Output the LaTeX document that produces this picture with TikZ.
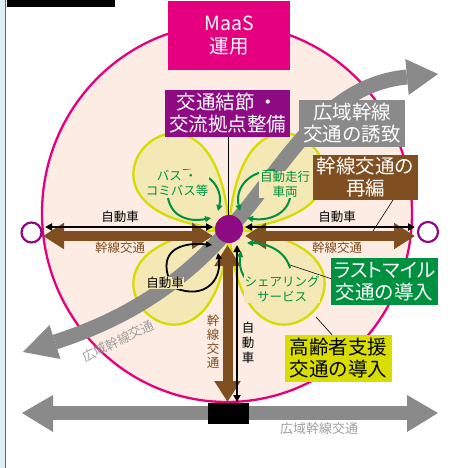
\documentclass[tikz,border=0pt]{standalone}
\usepackage{fontspec}
\setmainfont{Noto Sans CJK JP}
\usetikzlibrary{arrows.meta}
\definecolor{mag}{HTML}{E4007F}
\definecolor{purp}{HTML}{8E0B83}
\definecolor{gbar}{HTML}{8A8A8A}
\definecolor{glabel}{HTML}{A0A0A0}
\definecolor{brn}{HTML}{7F4F21}
\definecolor{grn}{HTML}{009140}
\definecolor{ylw}{HTML}{D9DE00}
\definecolor{peach}{HTML}{FDECE3}
\definecolor{petalfill}{HTML}{F4E8B4}
\definecolor{petaledge}{HTML}{D7DC00}
\definecolor{lblue}{HTML}{DDEEF4}
\tikzset{
  bigbox/.style={inner sep=0pt, align=center, text=white, font=\fontsize{19.5}{22}\selectfont},
  small/.style={inner sep=0pt, align=center, font=\fontsize{12.5}{15}\selectfont},
  petallabel/.style={small, fill=petalfill, inner sep=0.6pt},
  petalshape/.style={fill=petalfill, draw=petaledge, line width=2.3pt},
  gband/.style={draw=gbar, line width=15pt},
  brownarr/.style={draw=brn, line width=10pt, {Triangle[length=21pt,width=25pt]}-{Triangle[length=21pt,width=25pt]}},
  blackarr/.style={draw=black, line width=2.2pt, {Triangle[length=7pt,width=7pt]}-{Triangle[length=7pt,width=7pt]}},
  greenarc/.style={draw=grn, line width=2pt, -{Triangle[length=6pt,width=6pt]}},
  blackarc/.style={draw=black, line width=1.8pt, -{Triangle[length=6pt,width=6pt]}},
  callout/.style={draw=black, line width=0.6pt},
  endring/.style={circle, draw=purp, line width=2.2pt, fill=white, minimum size=20pt, inner sep=0pt}
}
\begin{document}
\begin{tikzpicture}[x=1pt,y=-1pt]
\useasboundingbox (0,0) rectangle (455,468);
% page edge
\fill[lblue] (0,0) rectangle (5.5,468);
\draw[gray!80!black, line width=0.8pt] (5.8,0) -- (5.8,468);
\fill[black] (7,0) rectangle (115,7);

% big circle
\draw[mag, line width=2.3pt, fill=peach] (227,213) ellipse [x radius=185, y radius=189];

\coordinate (hc) at (229,229);
% petals
\draw[petalshape] (hc) .. controls ++(-208,-14) and ++(-14,-208) .. (hc);
\draw[petalshape] (hc) .. controls ++(208,-14) and ++(14,-208) .. (hc);
\draw[petalshape] (hc) .. controls ++(-208,14) and ++(-14,208) .. (hc);
\draw[petalshape] (hc) .. controls ++(208,14) and ++(14,208) .. (hc);

% callout lines
\draw[callout] (228,137) -- (228,216);
\draw[callout] (393,200) -- (373,231);
\draw[callout] (332,279) -- (290,265);
\draw[callout] (334,337) -- (316,317);

% wide-area trunk band
\coordinate (gA) at (55,342);
\coordinate (gB) at (407,77);
\draw[gband] (gA) .. controls (130,318) and (185,280) .. (hc) .. controls (280,175) and (320,85) .. (gB);
\fill[gbar] (23,352) -- (49.5,325) -- (60.5,359) -- cycle;
\fill[gbar] (438,74) -- (405.3,59) -- (408.7,95) -- cycle;

% brown trunk arrows
\draw[brownarr] (43,236) -- (213,236);
\draw[brownarr] (245,236) -- (415,236);
\draw[brownarr] (227.5,245) -- (227.5,402);

% black car arrows
\draw[blackarr] (45,227) -- (213,227);
\draw[blackarr] (245,227) -- (415,227);
\draw[blackarr] (237,245) -- (237,402);

% green arcs
\draw[greenarc] (183,170) .. controls (212,171) and (223,190) .. (218,211);
\draw[greenarc] (168,198) .. controls (172,218) and (190,222) .. (211,218);
\draw[greenarc] (275,170) .. controls (246,171) and (235,190) .. (240,211);
\draw[greenarc] (290,198) .. controls (286,216) and (266,221) .. (247,218);
\draw[greenarc] (290,268) .. controls (285,250) and (266,243) .. (247,243);
\draw[greenarc] (262,288) .. controls (245,285) and (238,270) .. (241,251);
% black arcs
\draw[blackarc] (168,276) .. controls (160,248) and (185,242) .. (212,245);
\draw[blackarc] (175,288) .. controls (205,300) and (222,280) .. (218,253);

% hub
\node[circle, fill=purp, minimum size=28pt, inner sep=0pt] (hub) at (hc) {};

% end rings
\node[endring] (ringL) at (31.5,232.5) {};
\node[endring] (ringR) at (428,232) {};

% small labels
\node[small] (lcar) at (120,217) {自動車};
\node[small, text=brn] (ltrunk) at (120,248) {幹線交通};
\node[small] (rcar) at (337,217) {自動車};
\node[small, text=brn] (rtrunk) at (337,248) {幹線交通};
\node[small, text=brn, font=\fontsize{12.5}{14}\selectfont] (vtrunk) at (213,341.5) {幹\\線\\交\\通};
\node[small] (vcar) at (248,343) {自\\動\\車};
\node[petallabel, text=grn] (bus) at (177,183.5) {バス ・\\コミバス等};
\node[petallabel, text=grn] (auto) at (285,184.5) {自動走行\\車両};
\node[petallabel, text=grn] (share) at (282,289) {シェアリング\\サービス};
\node[petallabel] (llcar) at (165,283) {自動車};
\node[small, text=glabel, rotate=26, font=\fontsize{13}{15}\selectfont] (rotlab) at (118,341) {広域幹線交通};

% boxes
\node[bigbox, fill=mag, minimum width=122pt, minimum height=69pt, font=\fontsize{19.5}{23}\selectfont] (maas) at (229,35.5) {MaaS\\運用};
\node[bigbox, fill=purp, minimum width=125pt, minimum height=47pt] (node) at (227.5,113.5) {交通結節 ・\\交流拠点整備};
\node[bigbox, fill=gbar, minimum width=106pt, minimum height=47pt] (wide) at (352,123.5) {広域幹線\\交通の誘致};
\node[bigbox, fill=brn, minimum width=105pt, minimum height=45pt] (reorg) at (365.5,177.5) {幹線交通の\\再編};
\node[bigbox, fill=grn, minimum width=107pt, minimum height=47pt] (last) at (384.5,281.5) {{\addfontfeature{RawFeature=+palt}ラストマイル}\\交通の導入};
\node[bigbox, fill=ylw, text=black, minimum width=107pt, minimum height=47pt] (elder) at (338.5,358.5) {高齢者支援\\交通の導入};

% bottom wide-area arrow
\fill[gbar] (53,406) rectangle (407,420);
\fill[gbar] (22,413) -- (53,395) -- (53,432) -- cycle;
\fill[gbar] (438,413) -- (407,395) -- (407,432) -- cycle;
\node[fill=black, minimum width=41pt, minimum height=21pt, inner sep=0pt] (station) at (228.5,413.5) {};
\node[small, text=glabel, font=\fontsize{13}{15}\selectfont] (bottomlab) at (319,429) {広域幹線交通};
\end{tikzpicture}
\end{document}
